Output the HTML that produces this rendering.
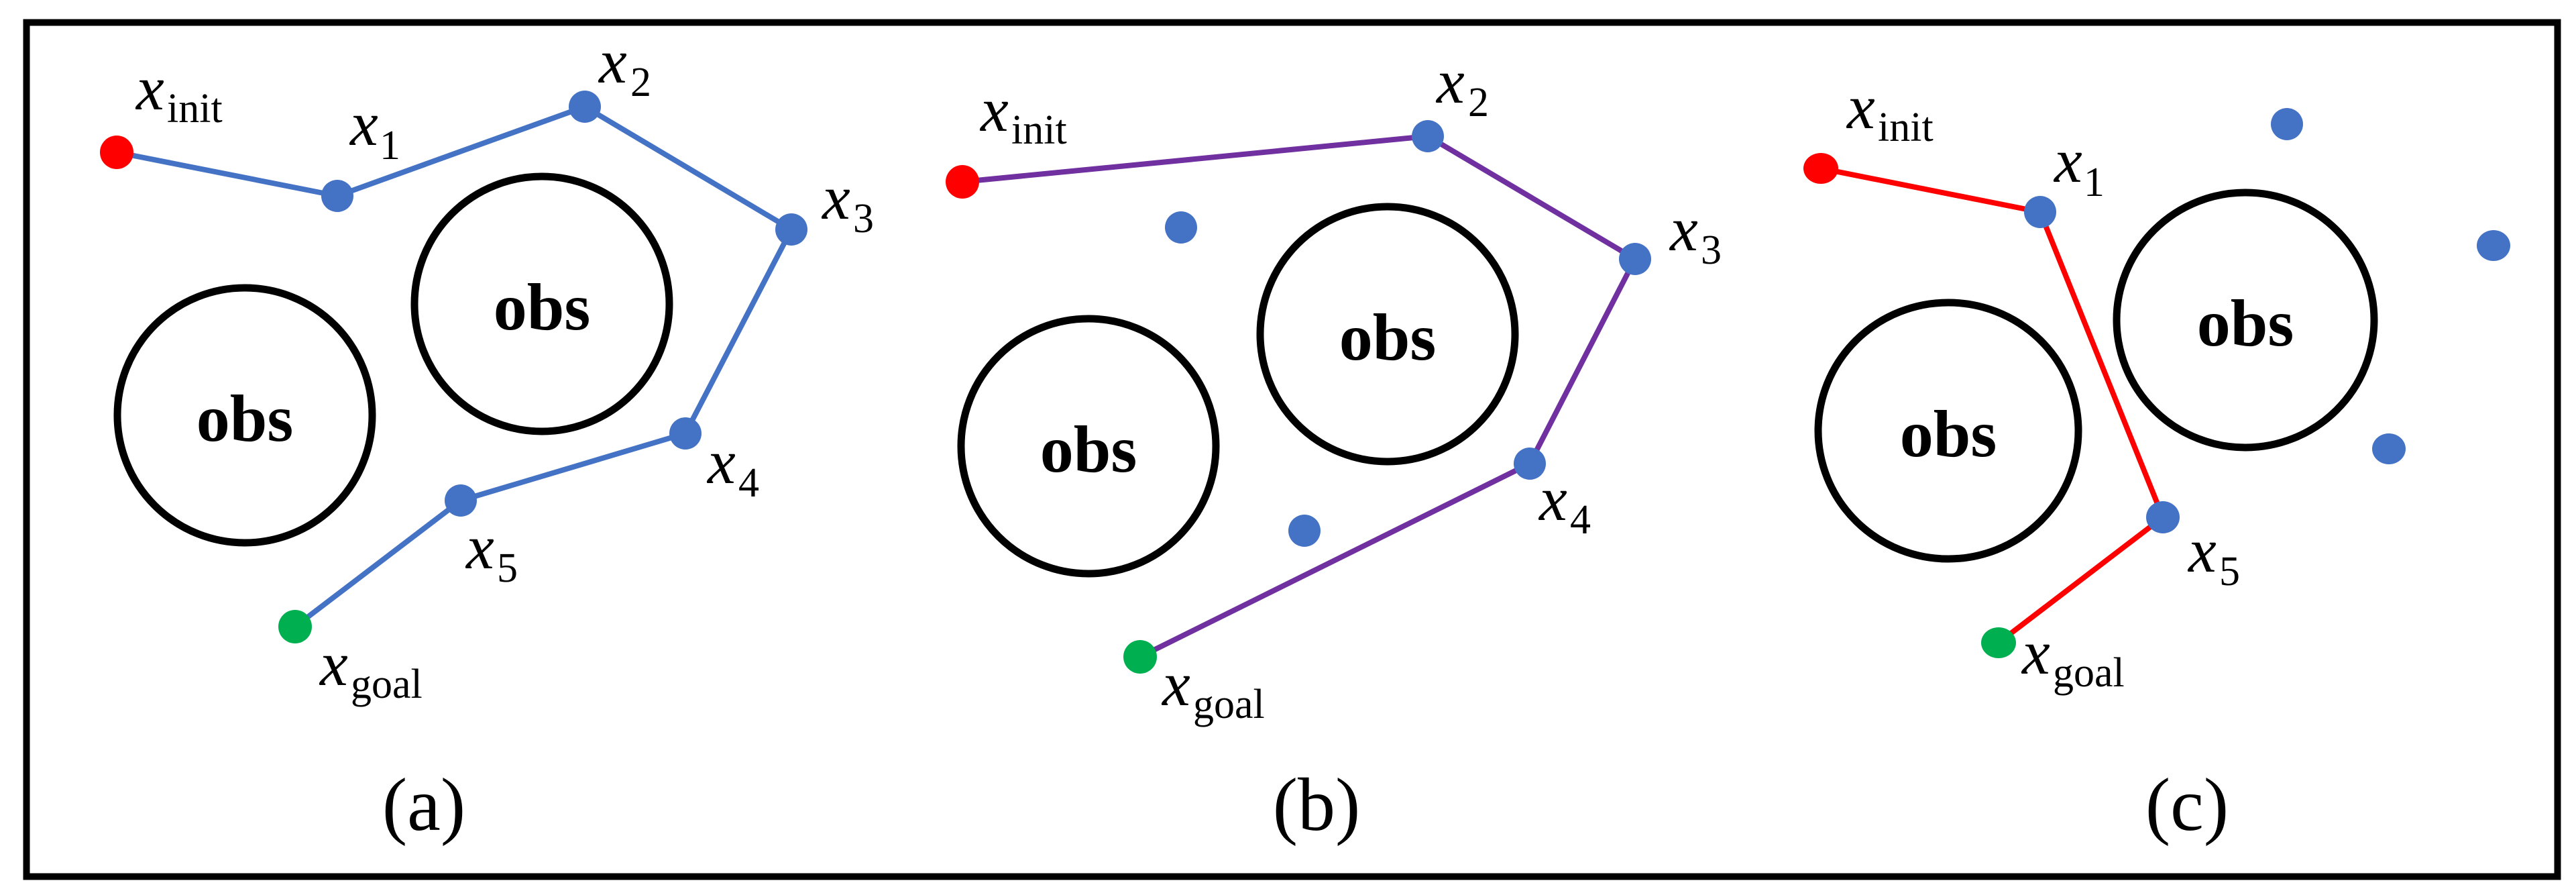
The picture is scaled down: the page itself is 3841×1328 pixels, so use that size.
<!DOCTYPE html>
<html><head><meta charset="utf-8"><style>
html,body{margin:0;padding:0;background:#fff;}
svg{display:block;font-family:'Liberation Serif','DejaVu Serif',serif;}
svg text{font-family:'Liberation Serif','DejaVu Serif',serif;fill:#000;}
.x{font-style:italic;font-size:94px;}
.s{font-size:62px;}
.o{font-weight:bold;font-size:100px;}
.c{font-size:112px;}
</style></head><body>
<svg width="3841" height="1328" viewBox="0 0 3841 1328" xmlns="http://www.w3.org/2000/svg" font-family="Liberation Serif, DejaVu Serif, serif">
<rect x="0" y="0" width="3841" height="1328" fill="#fff"/>
<rect x="39.5" y="33.5" width="3774" height="1273" fill="none" stroke="#000" stroke-width="10"/>

<!-- Panel a -->
<g fill="none" stroke="#000" stroke-width="11">
<circle cx="365" cy="619" r="190"/>
<circle cx="808" cy="453" r="190"/>
</g>
<text class="o" x="365" y="657" text-anchor="middle">obs</text>
<text class="o" x="808" y="491" text-anchor="middle">obs</text>
<polyline points="174,227 503,292 872,159 1180,342 1022,646 687,746 440,934" fill="none" stroke="#4472C4" stroke-width="8" stroke-linejoin="round"/>
<circle cx="174" cy="227" r="25" fill="#FF0000"/>
<g fill="#4472C4">
<circle cx="503" cy="292" r="24"/><circle cx="872" cy="159" r="24"/><circle cx="1180" cy="342" r="24"/><circle cx="1022" cy="646" r="24"/><circle cx="687" cy="746" r="24"/>
</g>
<circle cx="440" cy="934" r="25" fill="#00B050"/>
<text class="x" x="203" y="163">x</text><text class="s" x="249" y="182">init</text>
<text class="x" x="522" y="216">x</text><text class="s" x="566" y="237">1</text>
<text class="x" x="893" y="123">x</text><text class="s" x="940" y="143">2</text>
<text class="x" x="1226" y="326">x</text><text class="s" x="1272" y="346">3</text>
<text class="x" x="1055" y="720">x</text><text class="s" x="1101" y="740">4</text>
<text class="x" x="695" y="847">x</text><text class="s" x="741" y="867">5</text>
<text class="x" x="477" y="1021">x</text><text class="s" x="523" y="1040">goal</text>
<text class="c" x="632" y="1237" text-anchor="middle">(a)</text>

<!-- Panel b -->
<g fill="none" stroke="#000" stroke-width="11">
<circle cx="1623" cy="665" r="190"/>
<circle cx="2069" cy="498" r="190"/>
</g>
<text class="o" x="1623" y="703" text-anchor="middle">obs</text>
<text class="o" x="2069" y="536" text-anchor="middle">obs</text>
<polyline points="1435,271 2129,203 2438,386 2281,691 1700,979" fill="none" stroke="#7030A0" stroke-width="8" stroke-linejoin="round"/>
<circle cx="1435" cy="271" r="25" fill="#FF0000"/>
<g fill="#4472C4">
<circle cx="2129" cy="203" r="24"/><circle cx="2438" cy="386" r="24"/><circle cx="2281" cy="691" r="24"/><circle cx="1761" cy="339" r="24"/><circle cx="1945" cy="791" r="24"/>
</g>
<circle cx="1700" cy="979" r="25" fill="#00B050"/>
<text class="x" x="1462" y="195">x</text><text class="s" x="1508" y="214">init</text>
<text class="x" x="2142" y="153">x</text><text class="s" x="2189" y="173">2</text>
<text class="x" x="2490" y="373">x</text><text class="s" x="2536" y="393">3</text>
<text class="x" x="2295" y="775">x</text><text class="s" x="2341" y="795">4</text>
<text class="x" x="1733" y="1051">x</text><text class="s" x="1779" y="1070">goal</text>
<text class="c" x="1963" y="1237" text-anchor="middle">(b)</text>

<!-- Panel c -->
<g fill="none" stroke="#000" stroke-width="11">
<ellipse cx="2905" cy="642" rx="194" ry="191"/>
<ellipse cx="3348" cy="477" rx="192" ry="190"/>
</g>
<text class="o" x="2905" y="680" text-anchor="middle">obs</text>
<text class="o" x="3348" y="515" text-anchor="middle">obs</text>
<polyline points="2715,251 3042,316 3225,771 2980,958" fill="none" stroke="#FF0000" stroke-width="8" stroke-linejoin="round"/>
<ellipse cx="2715" cy="251" rx="26" ry="23" fill="#FF0000"/>
<g fill="#4472C4">
<ellipse cx="3042" cy="316" rx="24" ry="24"/><ellipse cx="3225" cy="771" rx="25" ry="24"/><ellipse cx="3410" cy="185" rx="24" ry="24"/><ellipse cx="3718" cy="366" rx="25" ry="23"/><ellipse cx="3562" cy="669" rx="25" ry="23"/>
</g>
<ellipse cx="2980" cy="958" rx="26" ry="23" fill="#00B050"/>
<text class="x" x="2754" y="191">x</text><text class="s" x="2800" y="210">init</text>
<text class="x" x="3063" y="271">x</text><text class="s" x="3107" y="292">1</text>
<text class="x" x="3263" y="852">x</text><text class="s" x="3309" y="872">5</text>
<text class="x" x="3015" y="1004">x</text><text class="s" x="3061" y="1023">goal</text>
<text class="c" x="3261" y="1237" text-anchor="middle">(c)</text>
</svg>
</body></html>
